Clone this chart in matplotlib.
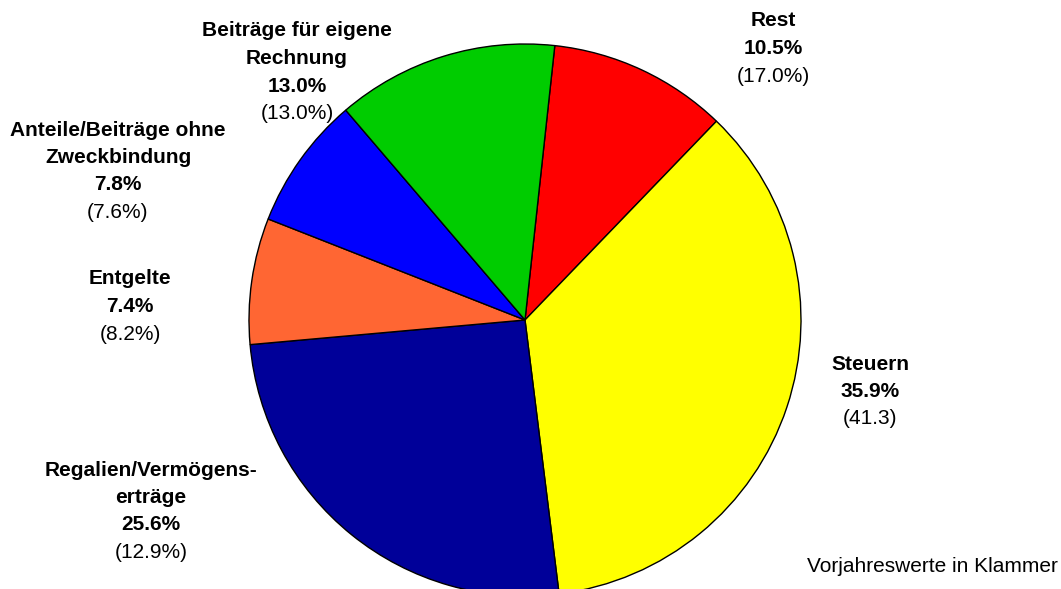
import matplotlib
matplotlib.use('Agg')
import matplotlib.pyplot as plt

plt.rcParams['font.family'] = ['Liberation Sans', 'DejaVu Sans']

# clockwise from the top
names = ['Rest', 'Steuern', 'Regalien/Vermögens-\nerträge', 'Entgelte',
         'Anteile/Beiträge ohne\nZweckbindung', 'Beiträge für eigene\nRechnung']
shares = [10.5, 35.9, 25.6, 7.4, 7.8, 13.0]
prev = ['(17.0%)', '(41.3)', '(12.9%)', '(8.2%)', '(7.6%)', '(13.0%)']
colors = ['#FF0000', '#FFFF00', '#000099', '#FF6633', '#0000FF', '#00CC00']

# label anchor (x, y of first line) in pixels from top-left
label_pos = [(773, 21), (870, 364), (151, 470), (130, 279), (118, 130), (297, 31)]

W, H = 1061, 589
fig = plt.figure(figsize=(W / 100, H / 100), dpi=100)
ax = fig.add_axes([0, 0, 1, 1])

ax.pie(shares, colors=colors, startangle=83.8, counterclock=False,
       center=(525, H - 320), radius=276,
       wedgeprops={'edgecolor': 'black', 'linewidth': 1.0})
ax.set_xlim(0, W)
ax.set_ylim(0, H)
ax.set_aspect('auto')
ax.axis('off')

step = 27.5
fs = 15
for name, s, p, (x, y) in zip(names, shares, prev, label_pos):
    lines = name.split('\n')
    i = 0
    for ln in lines:
        ax.text(x, H - (y + i * step), ln, ha='center', va='center',
                fontsize=fs, fontweight='bold')
        i += 1
    ax.text(x, H - (y + i * step), '{:.1f}%'.format(s), ha='center', va='center',
            fontsize=fs, fontweight='bold')
    i += 1
    ax.text(x, H - (y + i * step), p, ha='center', va='center', fontsize=fs)

ax.text(1058, H - 567, 'Vorjahreswerte in Klammer', ha='right', va='center',
        fontsize=fs)

fig.savefig('out.png', dpi=100)
